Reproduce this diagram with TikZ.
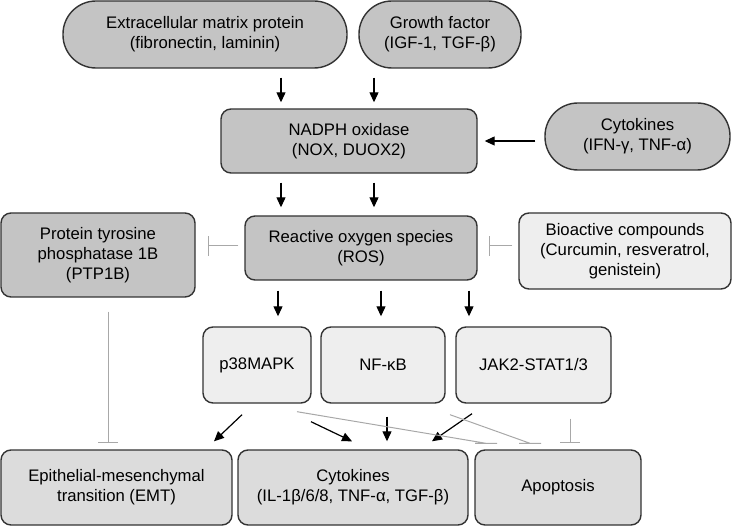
\documentclass[tikz,border=0pt]{standalone}
\usepackage{fontspec}
\setmainfont{Liberation Sans}
\usetikzlibrary{arrows.meta,calc,positioning}
\definecolor{boxdark}{HTML}{C4C4C4}
\definecolor{boxmid}{HTML}{DCDCDC}
\definecolor{boxlight}{HTML}{EEEEEE}
\definecolor{inhgray}{HTML}{A8A8A8}
\tikzset{
  pill/.style={draw=black!80,line width=1.4pt,fill=boxdark,rounded corners=33pt,align=center,inner sep=0pt},
  darkbox/.style={draw=black!80,line width=1.4pt,fill=boxdark,rounded corners=10pt,align=center,inner sep=0pt},
  lightbox/.style={draw=black!80,line width=1.4pt,fill=boxlight,rounded corners=10pt,align=center,inner sep=0pt},
  outbox/.style={draw=black!80,line width=1.4pt,fill=boxmid,rounded corners=10pt,align=center,inner sep=0pt},
  arr/.style={-{Triangle[length=10pt,width=9pt]},line width=1.2pt},
  inh/.style={inhgray,line width=1pt},
  inhbar/.style={inh,-{Bar[width=20pt,line width=1pt]}},
  every node/.style={font=\fontsize{16.7}{20}\selectfont}
}

\begin{document}
\begin{tikzpicture}[x=1pt,y=-1pt]
\useasboundingbox (0,0) rectangle (733,526);
% top row
\node[pill,minimum width=284pt,minimum height=67pt] (ecm) at (205,34.5) {Extracellular matrix protein\\(fibronectin, laminin)};
\node[pill,minimum width=162pt,minimum height=67pt] (growth) at (440,34.5) {Growth factor\\(IGF-1, TGF-β)};
\node[darkbox,minimum width=256pt,minimum height=64pt] (nadph) at (349,141) {NADPH oxidase\\(NOX, DUOX2)};
\node[pill,minimum width=185pt,minimum height=67pt] (cytin) at (637.5,136.5) {Cytokines\\(IFN-γ, TNF-α)};
% middle row
\node[darkbox,minimum width=232pt,minimum height=64pt] (ros) at (361,248) {Reactive oxygen species\\(ROS)};
\node[darkbox,minimum width=194pt,minimum height=84pt] (ptp) at (98,255) {Protein tyrosine\\phosphatase 1B\\(PTP1B)};
\node[lightbox,minimum width=212pt,minimum height=76pt] (bio) at (625,251) {Bioactive compounds\\(Curcumin, resveratrol,\\genistein)};
% pathways
\node[lightbox,minimum width=108pt,minimum height=76pt] (p38) at (257,365) {p38MAPK};
\node[lightbox,minimum width=124pt,minimum height=76pt] (nfkb) at (383,365) {NF-κB};
\node[lightbox,minimum width=155pt,minimum height=76pt] (jak) at (533.5,365) {JAK2-STAT1/3};
% outcomes
\node[outbox,minimum width=231pt,minimum height=75pt] (emt) at (116.5,487.5) {Epithelial-mesenchymal\\transition (EMT)};
\node[outbox,minimum width=230pt,minimum height=75pt] (cytout) at (353,487.5) {Cytokines\\(IL-1β/6/8, TNF-α, TGF-β)};
\node[outbox,minimum width=166pt,minimum height=75pt] (apop) at (558,487.5) {Apoptosis};
% activation
\draw[arr] ($(ecm.south)+(76,9)$) -- ($(nadph.north)+(-68,-6)$);
\draw[arr] ($(growth.south)+(-66,9)$) -- ($(nadph.north)+(25,-6)$);
\draw[arr] ($(cytin.west)+(-9,4.5)$) -- ($(nadph.east)+(7,0)$);
\draw[arr] ($(nadph.south)+(-68,9)$) -- ($(ros.north)+(-80,-8)$);
\draw[arr] ($(nadph.south)+(25,9)$) -- ($(ros.north)+(13,-8)$);
\draw[arr] ($(ros.south)+(-83,10)$) -- ($(p38.north)+(21,-10)$);
\draw[arr] ($(ros.south)+(20,10)$) -- ($(nfkb.north)+(-2,-10)$);
\draw[arr] ($(ros.south)+(108,10)$) -- ($(jak.north)+(-64.5,-10)$);
\draw[arr] ($(p38.south)+(-15,11)$) -- ($(emt.north)+(97.5,-8)$);
\draw[arr] ($(p38.south)+(54,18)$) -- ($(cytout.north)+(-1,-8)$);
\draw[arr] ($(nfkb.south)+(4,13)$) -- ($(cytout.north)+(34,-8)$);
\draw[arr] ($(jak.south)+(-61.5,10)$) -- ($(cytout.north)+(79,-8)$);
% inhibition
\draw[inhbar] ($(ros.west)+(-6,-2)$) -- ($(ptp.east)+(12,-9)$);
\draw[inhbar] ($(bio.west)+(-6,-5)$) -- ($(ros.east)+(11,-2)$);
\draw[inhbar] ($(ptp.south)+(10,14)$) -- ($(emt.north)+(-8.5,-6)$);
\draw[inhbar] ($(jak.south)+(36.5,15)$) -- ($(apop.north)+(12,-6)$);
\coordinate (d1) at ($(apop.north)+(-72,-6)$);
\coordinate (d2) at ($(apop.north)+(-28,-6)$);
\draw[inh] ($(p38.south)+(40,8)$) -- (d1) +(-11,0) -- +(11,0);
\draw[inh] ($(jak.south)+(-83.5,11)$) -- (d2) +(-11,0) -- +(11,0);
\end{tikzpicture}
\end{document}
